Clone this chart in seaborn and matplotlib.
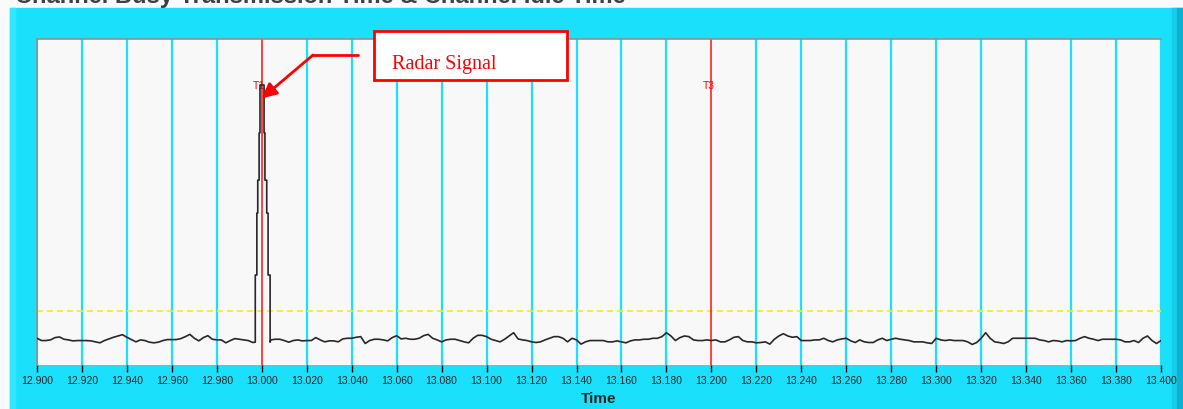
import numpy as np
import pandas as pd
import seaborn as sns
import matplotlib.pyplot as plt
from matplotlib.patches import Rectangle

# noise floor, one reading every 2 ms from 12.900 to 13.400 (NaN where the radar pulse sits)
noise_v = [8.2, 7.5, 7.5, 7.7, 8.4, 8.6, 7.9, 7.7, 7.4, 7.5,
           7.5, 7.5, 7.4, 7.1, 6.8, 7.5, 8.0, 8.5, 8.9, 9.3,
           8.5, 7.8, 7.1, 7.7, 7.5, 7.0, 6.8, 7.0, 7.5, 7.8,
           7.8, 7.8, 8.1, 8.7, 9.4, 8.2, 7.4, 8.4, 9.0, 7.9,
           7.7, 7.7, 6.8, 7.5, 8.1, 7.9, 7.7, 7.5, 6.9, np.nan,
           np.nan, np.nan, 7.7, 7.9, 7.9, 7.5, 7.0, 7.5, 7.7, 7.4,
           7.5, 7.5, 8.4, 7.7, 7.1, 7.4, 7.4, 7.1, 8.0, 8.2,
           8.2, 8.5, 8.7, 6.6, 7.5, 7.9, 7.9, 7.7, 7.4, 8.4,
           9.0, 8.0, 8.2, 7.9, 7.9, 8.2, 9.0, 9.4, 8.2, 7.7,
           7.1, 7.7, 7.9, 7.9, 7.5, 7.1, 6.8, 8.2, 9.1, 9.1,
           8.7, 7.9, 7.5, 7.1, 7.9, 8.9, 9.9, 8.0, 7.7, 7.5,
           7.1, 6.9, 7.1, 7.7, 8.2, 8.7, 8.7, 8.2, 7.1, 8.2,
           7.7, 6.4, 7.1, 7.5, 7.5, 7.5, 7.5, 7.1, 7.1, 7.4,
           7.1, 6.8, 7.4, 7.7, 7.7, 7.9, 7.9, 8.2, 8.2, 8.7,
           9.9, 8.9, 7.5, 8.4, 8.9, 8.7, 7.7, 7.5, 7.5, 7.7,
           7.5, 7.7, 7.1, 7.1, 7.7, 8.5, 8.7, 7.5, 7.1, 7.1,
           6.8, 6.9, 7.1, 6.4, 7.9, 8.9, 9.6, 8.9, 8.5, 8.7,
           7.5, 7.5, 7.5, 7.7, 7.7, 8.2, 7.5, 7.1, 7.7, 8.0,
           8.2, 7.4, 6.9, 7.7, 7.1, 6.9, 6.9, 7.7, 8.2, 7.5,
           7.9, 8.2, 7.9, 7.7, 7.5, 7.1, 7.1, 7.1, 6.8, 6.6,
           8.2, 7.7, 7.5, 7.7, 7.5, 7.5, 7.5, 7.1, 6.3, 6.9,
           8.2, 9.9, 8.2, 7.1, 6.9, 6.6, 7.1, 8.2, 8.2, 8.2,
           8.2, 8.2, 8.2, 7.7, 7.5, 7.1, 7.5, 7.4, 7.1, 7.5,
           7.4, 7.5, 8.2, 8.7, 8.2, 7.9, 7.5, 7.9, 7.9, 7.9,
           7.9, 7.7, 7.1, 7.1, 7.5, 6.9, 8.2, 8.9, 7.5, 6.6,
           7.5]
noise_t = np.round(np.arange(251) * 0.002 + 12.900, 3)

# radar pulse at 13.000 (stair-stepped edges)
spike_t = [12.9971, 12.9971, 12.9978, 12.9978, 12.9982, 12.9982, 12.9988, 12.9988,
           12.9992, 12.9992, 13.0010, 13.0010, 13.0014, 13.0014, 13.0022, 13.0022,
           13.0028, 13.0028, 13.0037, 13.0037]
spike_v = [7.0, 27.6, 27.6, 46.6, 46.6, 56.7, 56.7, 71.2,
           71.2, 85.9, 85.9, 71.2, 71.2, 56.7, 56.7, 46.6,
           46.6, 27.6, 27.6, 7.0]

threshold = 16.6
markers_t = [13.000, 13.200]
markers_lbl = ["T1", "T3"]
tick_vals = np.round(np.arange(26) * 0.02 + 12.900, 3)

df = pd.concat([pd.DataFrame({"Time": noise_t, "Level": noise_v}).dropna(),
                pd.DataFrame({"Time": spike_t, "Level": spike_v})])
df = df.sort_values("Time", kind="stable")

sns.set_style("white")
plt.rcParams["font.family"] = ["Liberation Sans", "DejaVu Sans"]

cyan = "#1ae0fc"
fig = plt.figure(figsize=(11.83, 4.09), dpi=100, facecolor="#fafafa")
W, H = 1183, 409

def fig_rect(x0, y0, x1, y1, color):
    fig.patches.append(Rectangle((x0 / W, 1 - y1 / H), (x1 - x0) / W, (y1 - y0) / H,
                                 transform=fig.transFigure, color=color, zorder=-5))

fig_rect(10, 8, 1183, 409, cyan)
fig_rect(10, 8, 15, 409, "#30e8ff")
fig_rect(1172, 8, 1177, 409, "#16cdea")
fig_rect(1177, 8, 1183, 409, "#10b0d0")

# page title above the panel, mostly cut off by the top edge as in the source
fig.text(15 / W, 1 - 3 / H, "Channel Busy Transmission Time & Channel Idle Time",
         fontsize=17, fontweight="bold", color="#404040", va="baseline", ha="left")

ax = fig.add_axes([37 / W, 1 - 365 / H, (1161 - 37) / W, (365 - 39) / H])
ax.set_zorder(2)
ax.set_facecolor("#f8f8f8")

for t in tick_vals:
    if t not in markers_t:
        ax.axvline(t, color=cyan, lw=1.6, zorder=1)
ax.axhline(threshold, color="#f5f000", lw=1.2, ls=(0, (3.5, 2.5)), zorder=2)
for t, lbl in zip(markers_t, markers_lbl):
    ax.axvline(t, color="#ff1010", lw=1.1, zorder=2)
    ax.text(t - 0.0012, 85.5, lbl, color="red", fontsize=7.5, ha="center", va="center", zorder=3)

sns.lineplot(data=df, x="Time", y="Level", sort=False, color="#282828", lw=1.2,
             ax=ax, zorder=4, estimator=None)

ax.set_xlim(12.900, 13.400)
ax.set_ylim(0, 100)
ax.set_xticks(tick_vals)
ax.set_xticklabels([f"{v:.3f}" for v in tick_vals], fontsize=7.5)
ax.set_yticks([])
ax.set_ylabel("")
ax.set_xlabel("Time", fontsize=11, fontweight="bold", labelpad=4)
ax.tick_params(axis="x", length=5, width=1, color="black", pad=3, bottom=True)
for side in ["top", "left"]:
    ax.spines[side].set_color("#909090")
    ax.spines[side].set_linewidth(1.2)
for side in ["bottom", "right"]:
    ax.spines[side].set_visible(False)

# callout box with arrow
ax.add_patch(Rectangle((13.0499, 87.4), 13.1358 - 13.0499, 102.5 - 87.4, facecolor="white",
                       edgecolor="red", lw=2, clip_on=False, zorder=6))
ax.text(13.0579, 92.3, "Radar Signal", family=["Liberation Serif", "DejaVu Serif"],
        fontsize=14.5, color="red", va="center", ha="left", zorder=7, clip_on=False)
ax.plot([13.0428, 13.0228], [95.1, 95.1], color="red", lw=2, clip_on=False, zorder=6)
ax.annotate("", xy=(13.0000, 81.8), xytext=(13.0228, 95.1),
            arrowprops=dict(arrowstyle="-|>", color="red", lw=2, mutation_scale=22,
                            shrinkA=0, shrinkB=0), zorder=6)

fig.savefig("out.png", dpi=100, facecolor=fig.get_facecolor())
